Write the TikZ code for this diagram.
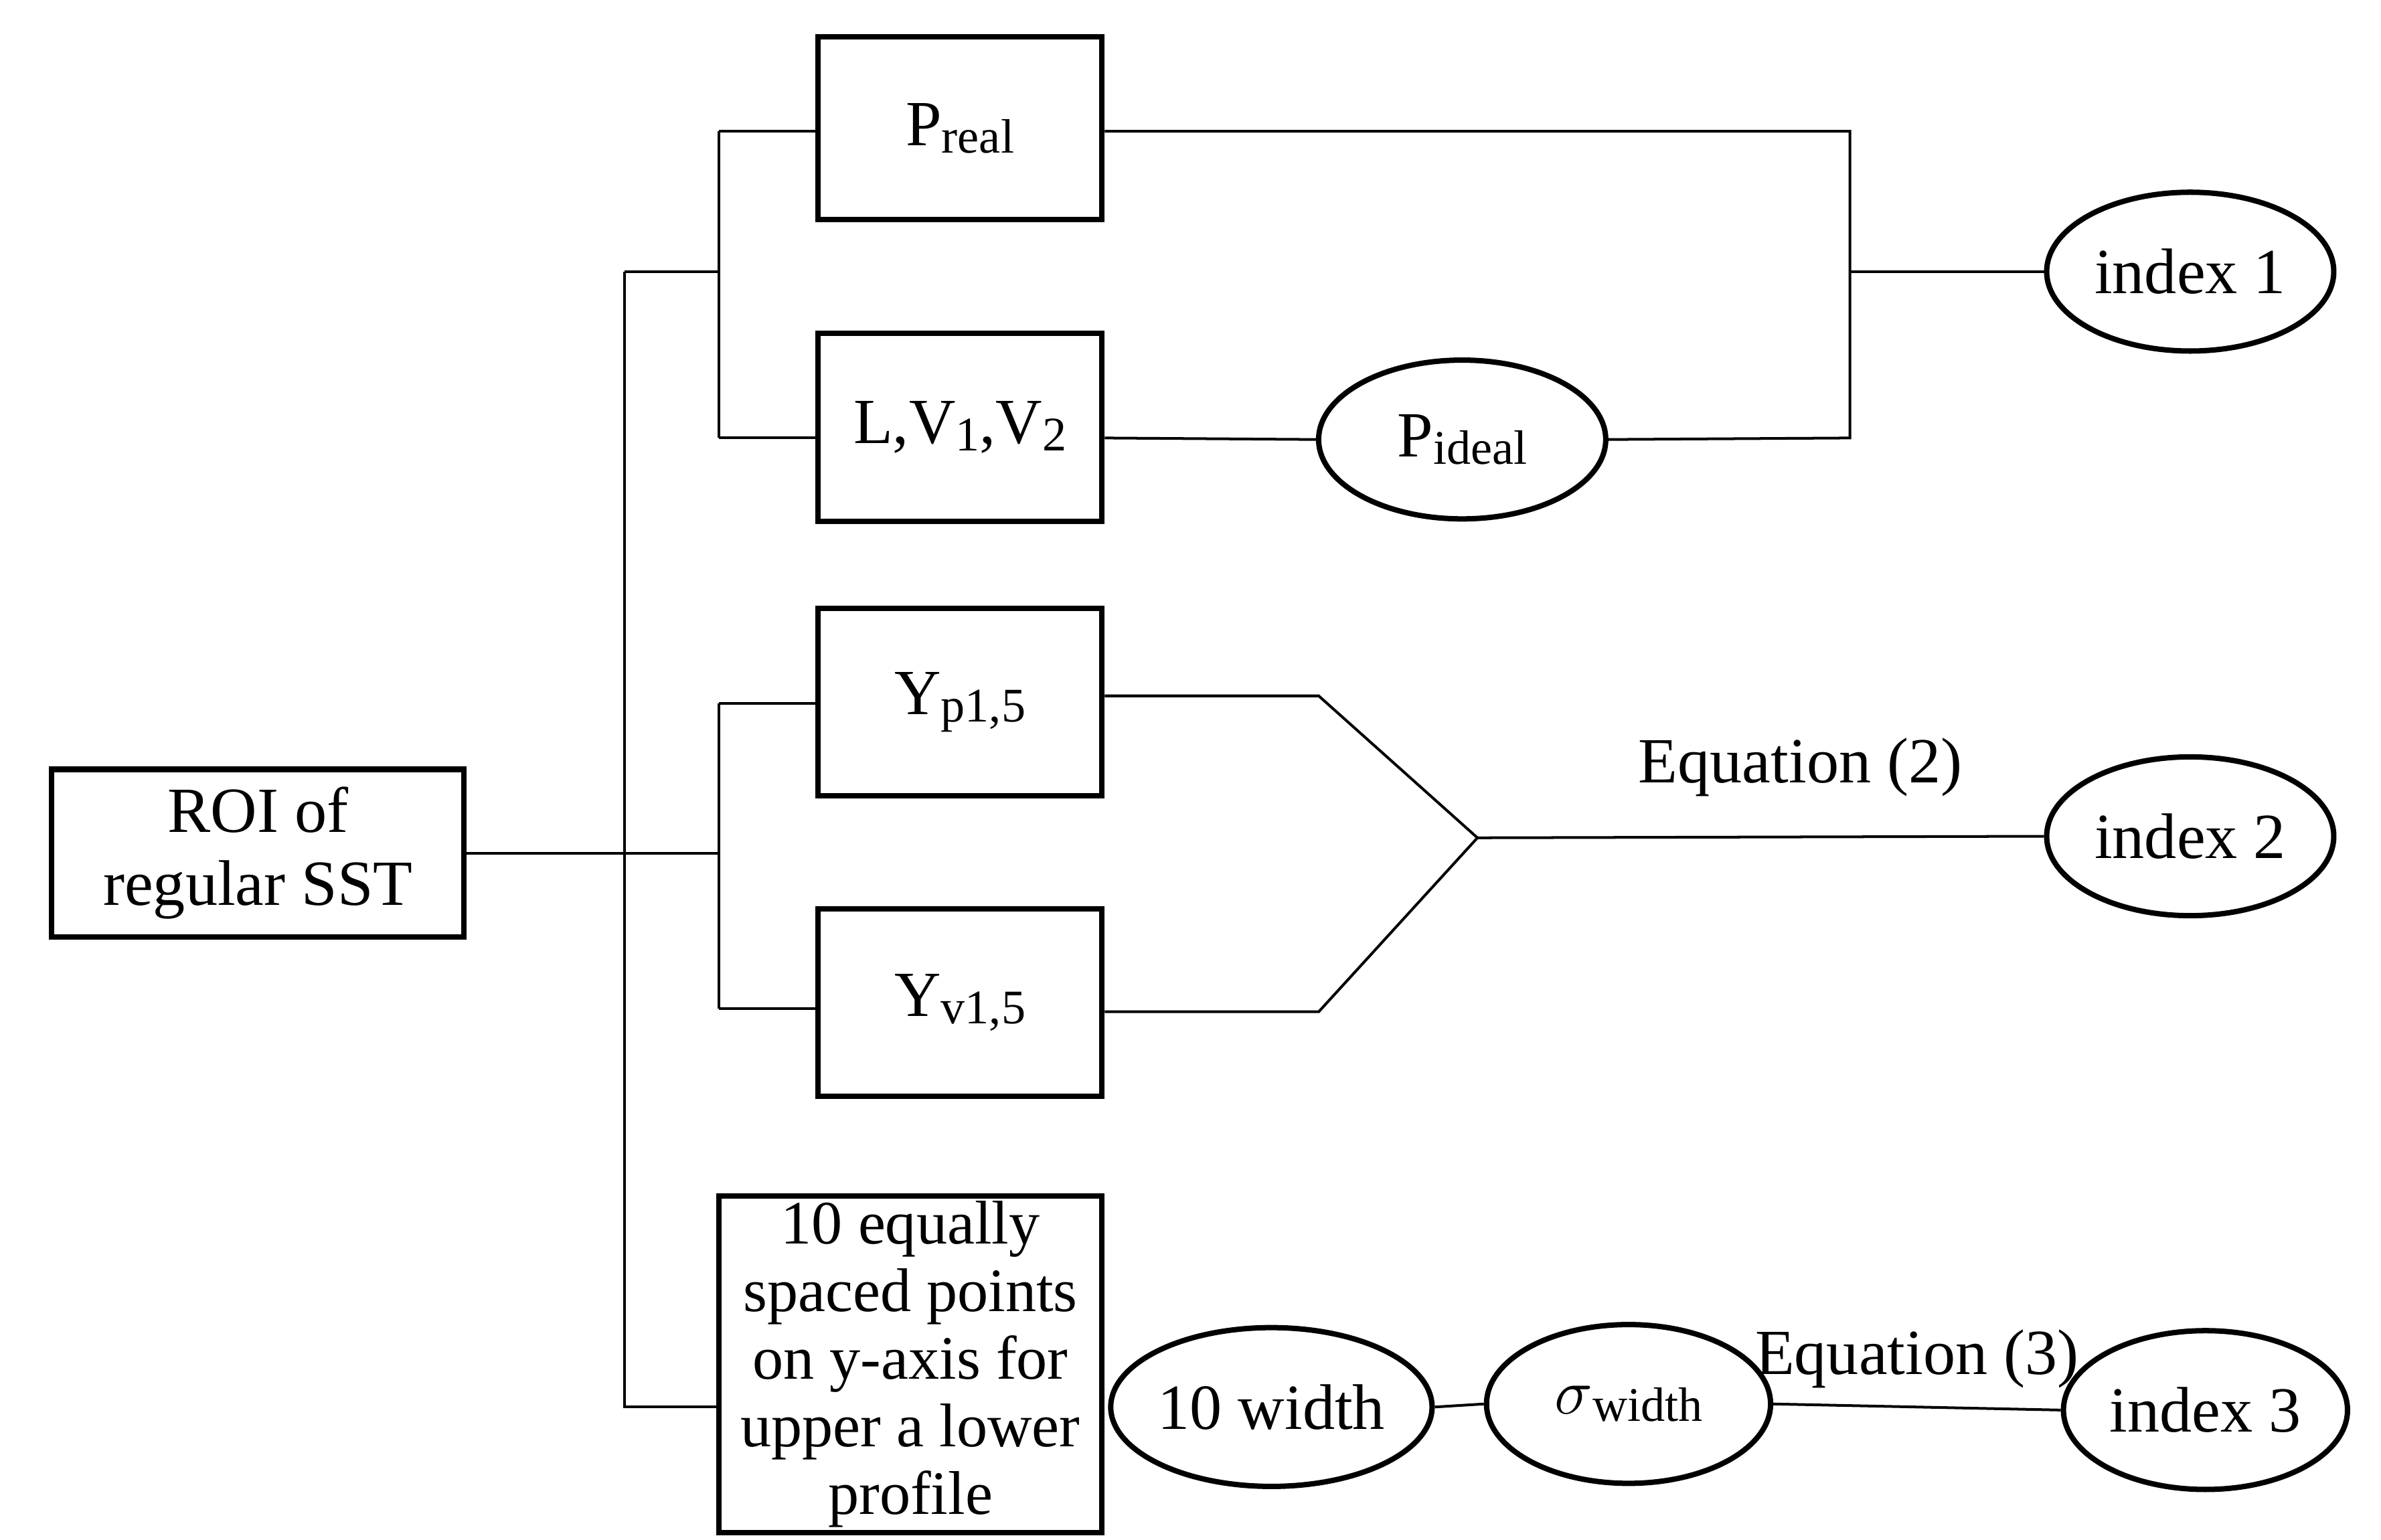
\documentclass[tikz,border=0pt]{standalone}
\usepackage{fontspec}
\setmainfont{Liberation Serif}
\usetikzlibrary{shapes.geometric}
\newcommand{\sbs}[1]{\raisebox{-0.25ex}{\fontsize{9}{10}\selectfont #1}}
\begin{document}
\begin{tikzpicture}[x=0.01cm,y=-0.01cm,
  box/.style={draw,line width=1pt,align=center,font=\fontsize{12}{13.5}\selectfont},
  ell/.style={draw,line width=1pt,ellipse,minimum width=1.88cm,minimum height=1.04cm,inner sep=0pt,font=\fontsize{12}{13.5}\selectfont},
  ln/.style={line width=0.5pt},
  lab/.style={font=\fontsize{12}{13.5}\selectfont}]
\useasboundingbox (0,0) rectangle (1560,1009);
\node[box,minimum width=2.7cm,minimum height=1.06cm] (roi) at (169,559) {ROI of\\regular SST};
\node[box,minimum width=1.86cm,minimum height=1.2cm] (preal) at (629,84) {P\sbs{real}};
\node[box,minimum width=1.86cm,minimum height=1.23cm] (lv) at (629,280) {L,V\sbs{1},V\sbs{2}};
\node[box,minimum width=1.86cm,minimum height=1.23cm] (yp) at (629,460) {Y\sbs{p1,5}};
\node[box,minimum width=1.86cm,minimum height=1.23cm] (yv) at (629,657) {Y\sbs{v1,5}};
\node[box,minimum width=2.51cm,minimum height=2.04cm,inner sep=1pt,font=\fontsize{11.5}{12.6}\selectfont] (pts) at (596.5,894) {10 equally\\spaced points\\on y-axis for\\upper a lower\\profile};
\node[ell] (i1) at (1435,178) {index 1};
\node[ell] (pid) at (958,288) {P\sbs{ideal}};
\node[ell] (i2) at (1435,548) {index 2};
\node[ell,minimum width=1.9cm] (w10) at (833,922) {10 width};
\node[ell,minimum width=1.86cm] (sw) at (1067,920) {$\sigma$\sbs{width}};
\node[ell,minimum width=1.86cm] (i3) at (1445,924) {index 3};
\coordinate (t1) at (409,178);
\coordinate (t2) at (409,922);
\coordinate (b1) at (471,86);
\coordinate (b2) at (471,287);
\coordinate (b3) at (471,461);
\coordinate (b4) at (471,661);
\coordinate (j2) at (968,549);
\draw[ln] (roi.east) -- (471,559);
\draw[ln] (t1) -- (t2) -- (pts.west|-t2);
\draw[ln] (t1) -- (471,178);
\draw[ln] (b1) -- (b2);
\draw[ln] (b1) -- (b1-|preal.west);
\draw[ln] (b2) -- (b2-|lv.west);
\draw[ln] (b3) -- (b4);
\draw[ln] (b3) -- (b3-|yp.west);
\draw[ln] (b4) -- (b4-|yv.west);
\draw[ln] (preal.east|-b1) -- (1212,86) -- (1212,287) -- (pid.east);
\draw[ln] (1212,178) -- (i1.west);
\draw[ln] (lv.east|-b2) -- (pid.west);
\draw[ln] (yp.east|-0,456) -- (864,456) -- (j2);
\draw[ln] (yv.east|-0,663) -- (864,663) -- (j2);
\draw[ln] (j2) -- (i2.west) node[lab,pos=0.57,above=4pt] {Equation (2)};
\draw[ln] (w10.east) -- (sw.west);
\draw[ln] (sw.east) -- (i3.west) node[lab,midway,above=0pt] {Equation (3)};
\end{tikzpicture}
\end{document}
